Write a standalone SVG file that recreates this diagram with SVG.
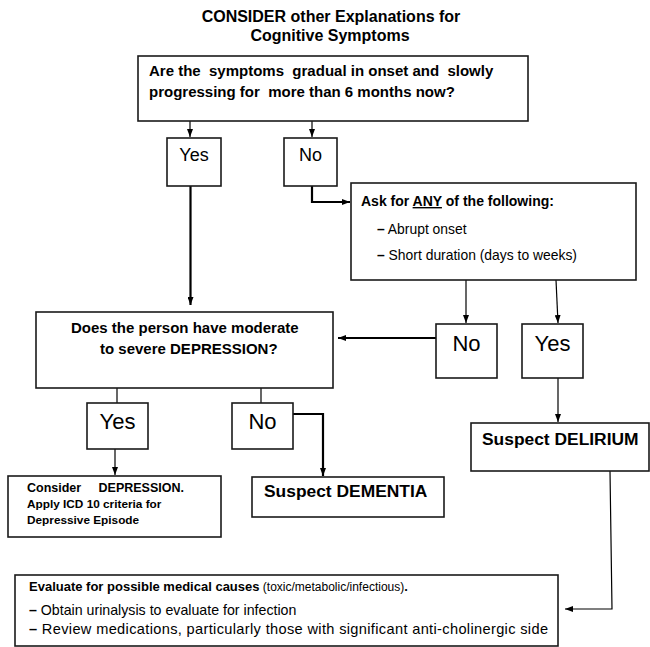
<svg xmlns="http://www.w3.org/2000/svg" width="650" height="647" viewBox="0 0 650 647">
<defs>
<marker id="ah" viewBox="0 0 8 6" refX="8" refY="3" markerWidth="8" markerHeight="6" markerUnits="userSpaceOnUse" orient="auto">
<path d="M0,0 L8,3 L0,6 Z" fill="#000"/>
</marker>
<style>
.box{fill:#fff;stroke:#1a1a1a;stroke-width:1.6}
.t{font-family:"Liberation Sans",Arial,sans-serif;fill:#000;white-space:pre}
.b{font-weight:bold}
.yn{font-family:"Liberation Sans",Arial,sans-serif;fill:#000;text-anchor:middle}
.c{fill:none;stroke:#000;stroke-width:1.2}
.k{fill:none;stroke:#000;stroke-width:2.2}
</style>
</defs>
<rect width="650" height="647" fill="#fff"/>
<g id="title">
<text class="t b" x="331" y="22" font-size="16" text-anchor="middle">CONSIDER other Explanations for</text>
<text class="t b" x="330" y="41" font-size="16" text-anchor="middle">Cognitive Symptoms</text>
</g>
<g id="connectors">
<line class="c" x1="190" y1="121" x2="190" y2="137" marker-end="url(#ah)"/>
<line class="c" x1="312" y1="121" x2="312" y2="137" marker-end="url(#ah)"/>
<line class="k" x1="190.5" y1="186" x2="190.5" y2="305" marker-end="url(#ah)"/>
<polyline class="k" points="312,186 312,202 350,202" marker-end="url(#ah)"/>
<line class="c" x1="466" y1="280" x2="466" y2="323" marker-end="url(#ah)"/>
<line class="c" x1="556" y1="280" x2="558" y2="323" marker-end="url(#ah)"/>
<line class="k" x1="436" y1="338" x2="338" y2="338" marker-end="url(#ah)"/>
<line class="c" x1="117" y1="388" x2="117" y2="403"/>
<line class="c" x1="261" y1="388" x2="261" y2="403"/>
<line class="c" x1="115" y1="449" x2="115" y2="475" marker-end="url(#ah)"/>
<polyline class="k" points="293,414 323,414 323,476" marker-end="url(#ah)"/>
<line class="c" x1="558" y1="378" x2="558" y2="422" marker-end="url(#ah)"/>
<polyline class="c" points="610,471 612,609 565,609" marker-end="url(#ah)"/>
</g>
<g id="q1">
<rect class="box" x="138" y="56" width="390" height="65"/>
<text class="t b" x="149" y="76" font-size="15">Are the  symptoms  gradual in onset and  slowly</text>
<text class="t b" x="149" y="97" font-size="15">progressing for  more than 6 months now?</text>
</g>
<g id="yes1">
<rect class="box" x="167" y="138" width="54" height="48"/>
<text class="yn" x="194" y="161" font-size="18">Yes</text>
</g>
<g id="no1">
<rect class="box" x="284" y="138" width="53" height="48"/>
<text class="yn" x="310.5" y="161" font-size="18">No</text>
</g>
<g id="ask">
<rect class="box" x="351" y="183" width="285" height="97"/>
<text class="t b" x="361" y="206" font-size="14">Ask for <tspan text-decoration="underline">ANY</tspan> of the following:</text>
<text class="t" x="377" y="234" font-size="13.9"><tspan class="b">–</tspan> Abrupt onset</text>
<text class="t" x="377" y="260" font-size="13.9"><tspan class="b">–</tspan> Short duration (days to weeks)</text>
</g>
<g id="no2">
<rect class="box" x="436" y="324" width="61" height="54"/>
<text class="yn" x="466.5" y="351" font-size="22">No</text>
</g>
<g id="yes2">
<rect class="box" x="522" y="324" width="61" height="54"/>
<text class="yn" x="552.5" y="351" font-size="22">Yes</text>
</g>
<g id="q2">
<rect class="box" x="36" y="312" width="297" height="76"/>
<text class="t b" x="71" y="333" font-size="15">Does the person have moderate</text>
<text class="t b" x="100" y="354" font-size="15">to severe DEPRESSION?</text>
</g>
<g id="yes3">
<rect class="box" x="87" y="403" width="61" height="46"/>
<text class="yn" x="117.5" y="429" font-size="22">Yes</text>
</g>
<g id="no3">
<rect class="box" x="232" y="403" width="61" height="46"/>
<text class="yn" x="262.5" y="429" font-size="22">No</text>
</g>
<g id="depression">
<rect class="box" x="8" y="476" width="213" height="61"/>
<text class="t b" x="27" y="492" font-size="12.5">Consider     DEPRESSION.</text>
<text class="t b" x="27" y="508" font-size="11.8">Apply ICD 10 criteria for</text>
<text class="t b" x="27" y="524" font-size="11.8">Depressive Episode</text>
</g>
<g id="dementia">
<rect class="box" x="252" y="477" width="192" height="40"/>
<text class="t b" x="264" y="497" font-size="17.4">Suspect DEMENTIA</text>
</g>
<g id="delirium">
<rect class="box" x="471" y="423" width="178" height="48"/>
<text class="t b" x="482" y="445" font-size="17.4">Suspect DELIRIUM</text>
</g>
<g id="evaluate">
<rect class="box" x="15" y="575" width="543" height="71"/>
<text class="t" x="29" y="591" font-size="12"><tspan class="b" font-size="13">Evaluate for possible medical causes</tspan> (toxic/metabolic/infectious)<tspan class="b" font-size="13">.</tspan></text>
<text class="t" x="29" y="615" font-size="14.2"><tspan class="b">–</tspan> Obtain urinalysis to evaluate for infection</text>
<text class="t" x="29" y="634" font-size="14.6" textLength="519" lengthAdjust="spacing"><tspan class="b">–</tspan> Review medications, particularly those with significant anti-cholinergic side</text>
</g>
</svg>
